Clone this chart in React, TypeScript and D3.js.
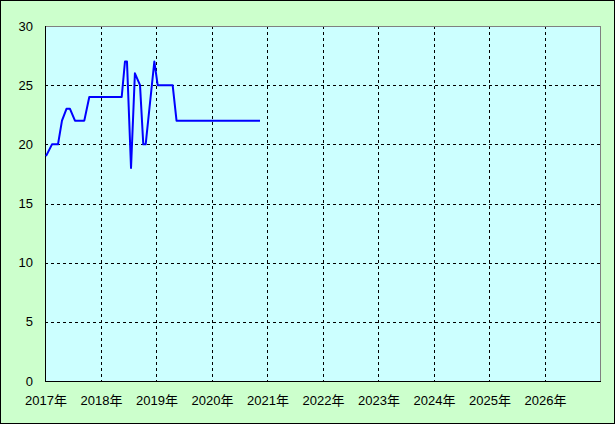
import React from "react";
import * as d3 from "d3";

const years = [2017, 2018, 2019, 2020, 2021, 2022, 2023, 2024, 2025, 2026];
const yTicks = [0, 5, 10, 15, 20, 25, 30];
const xDates = [
  2017.018, 2017.126, 2017.234, 2017.306, 2017.387, 2017.45, 2017.54, 2017.708,
  2017.798, 2018.382, 2018.441, 2018.477, 2018.55, 2018.62, 2018.712, 2018.771,
  2018.814, 2018.97, 2019.03, 2019.3, 2019.37, 2020.874,
];
const yValues = [19, 20, 20, 22, 23, 23, 22, 22, 24, 24, 27, 27, 18, 26, 25, 20, 20, 27, 25, 25, 22, 22];

const W = 615;
const H = 424;
const M = { left: 45, top: 26, right: 600, bottom: 381 };

export default function App() {
  const x = d3.scaleLinear().domain([2017, 2027]).range([M.left, M.right]);
  const y = d3.scaleLinear().domain([0, 30]).range([M.bottom, M.top]);
  const pts = xDates.map((d, i) => [x(d), y(yValues[i])] as [number, number]);
  const line = d3.line()(pts) || "";
  const font = "'Liberation Sans', Arial, 'Noto Sans CJK JP', sans-serif";
  return (
    <svg
      width={W}
      height={H}
      style={{ position: "absolute", left: 0, top: 0 }}
      fontFamily={font}
      fontSize={13}
    >
      <rect x={0.5} y={0.5} width={W - 1} height={H - 1} fill="#ccffcc" stroke="#000" />
      <rect x={M.left} y={M.top} width={M.right - M.left} height={M.bottom - M.top} fill="#ccffff" />
      {yTicks.slice(1, -1).map((t) => (
        <line key={"gy" + t} x1={M.left} x2={M.right} y1={Math.round(y(t)) + 0.5} y2={Math.round(y(t)) + 0.5} stroke="#000" strokeDasharray="3,3" />
      ))}
      {years.slice(1).map((t) => (
        <line key={"gx" + t} x1={Math.round(x(t)) + 0.5} x2={Math.round(x(t)) + 0.5} y1={M.top} y2={M.bottom} stroke="#000" strokeDasharray="3,3" />
      ))}
      <line x1={M.left} x2={M.right + 0.5} y1={M.top + 0.5} y2={M.top + 0.5} stroke="#808080" />
      <line x1={M.right + 0.5} x2={M.right + 0.5} y1={M.top} y2={M.bottom} stroke="#808080" />
      <line x1={M.left + 0.5} x2={M.left + 0.5} y1={M.top} y2={M.bottom + 1} stroke="#000" />
      <line x1={M.left} x2={M.right + 1} y1={M.bottom + 0.5} y2={M.bottom + 0.5} stroke="#000" />
      <path d={line} fill="none" stroke="#0000ff" strokeWidth={2} strokeLinejoin="round" />
      {yTicks.map((t) => (
        <text key={"ty" + t} x={33} y={y(t)} textAnchor="end" dominantBaseline="central" fill="#000">
          {t}
        </text>
      ))}
      {years.map((t) => (
        <text key={"tx" + t} x={x(t) + 1} y={405} textAnchor="middle" fill="#000">
          {t + "年"}
        </text>
      ))}
    </svg>
  );
}
